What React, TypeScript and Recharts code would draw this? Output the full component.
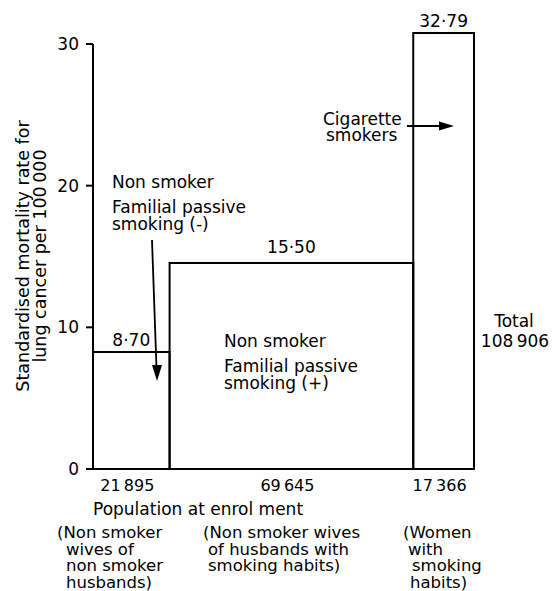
import React from 'react';
import { ComposedChart, XAxis, YAxis, ReferenceArea, Customized } from 'recharts';

// ---- data ----
const populations = [21895, 69645, 17366];
const populationLabels = ['21\u2009895', '69\u2009645', '17\u2009366'];
// bar heights as drawn against the axis in the figure
const drawnRates = [8.26, 14.54, 30.78];
// printed rate values above each bar
const rateLabels = ['8·70', '15·50', '32·79'];
const groupLabels = [
  ['(Non smoker', 'wives of', 'non smoker', 'husbands)'],
  ['(Non smoker wives', 'of husbands with', 'smoking habits)'],
  ['(Women', 'with', 'smoking', 'habits)'],
];
const yTicks = [0, 10, 20, 30];
const totalLabel = ['Total', '108\u2009906'];
const yAxisTitle = ['Standardised mortality rate for', 'lung cancer per 100\u2009000'];
const xAxisTitle = 'Population at enrol ment';

const starts: number[] = [];
populations.reduce((acc, p) => {
  starts.push(acc);
  return acc + p;
}, 0);
const total = populations.reduce((a, b) => a + b, 0);
const bars = populations.map((p, i) => ({
  x1: starts[i],
  x2: starts[i] + p,
  mid: starts[i] + p / 2,
  rate: drawnRates[i],
  label: rateLabels[i],
  pop: populationLabels[i],
}));
const midTicks = bars.map((b) => b.mid);

const FONT = '"DejaVu Sans", sans-serif';
const FS = 17;
const labelOffsets = [6, 10, 6];

const Annotations = () => {
  const t = { fontFamily: FONT, fontSize: FS, fill: '#000' } as const;
  const g = { fontFamily: FONT, fontSize: 16.5, fill: '#000' } as const;
  return (
    <g>
      {/* y axis title */}
      <text {...t} fontSize={17.5} textAnchor="middle" transform="translate(29,256) rotate(-90)">
        {yAxisTitle[0]}
      </text>
      <text {...t} fontSize={17.5} textAnchor="middle" transform="translate(46,256) rotate(-90)">
        {yAxisTitle[1]}
      </text>

      {/* left annotation */}
      <text {...t} x={112} y={188}>Non smoker</text>
      <text {...t} x={112} y={213}>Familial passive</text>
      <text {...t} x={112} y={230}>smoking  (-)</text>
      <line x1={152} y1={240} x2={156.5} y2={368} stroke="#000" strokeWidth={1.8} />
      <polygon points="152,365 162,365 157,381" fill="#000" />

      {/* middle annotation */}
      <text {...t} x={224} y={347}>Non smoker</text>
      <text {...t} x={224} y={372}>Familial passive</text>
      <text {...t} x={224} y={389}>smoking  (+)</text>

      {/* right annotation */}
      <text {...t} x={323} y={125}>Cigarette</text>
      <text {...t} x={326} y={141}>smokers</text>
      <line x1={407} y1={126} x2={442} y2={126} stroke="#000" strokeWidth={1.8} />
      <polygon points="439,121.5 439,130.5 454,126" fill="#000" />

      {/* total */}
      <text {...t} x={514} y={327} textAnchor="middle">{totalLabel[0]}</text>
      <text {...t} x={515} y={347} textAnchor="middle">{totalLabel[1]}</text>

      {/* x axis title */}
      <text {...t} x={93} y={515}>{xAxisTitle}</text>

      {/* group descriptions */}
      {groupLabels[0].map((s, i) => (
        <text key={'g0' + i} {...g} x={i === 0 ? 57 : 66} y={538 + i * 16.7}>{s}</text>
      ))}
      {groupLabels[1].map((s, i) => (
        <text key={'g1' + i} {...g} x={i === 0 ? 203 : 208} y={538 + i * 16.7}>{s}</text>
      ))}
      {groupLabels[2].map((s, i) => (
        <text key={'g2' + i} {...g} x={[403, 408, 412, 410][i]} y={538 + i * 16.7}>{s}</text>
      ))}
    </g>
  );
};

export default function App() {
  return (
    <div style={{ position: 'absolute', left: 0, top: 0, background: '#fff' }}>
      <ComposedChart
        width={556}
        height={591}
        data={bars}
        margin={{ top: 44, right: 82, bottom: 92, left: 33 }}
        style={{ fontFamily: FONT }}
      >
        <XAxis
          type="number"
          dataKey="mid"
          domain={[0, total]}
          ticks={midTicks}
          tickFormatter={(v: number) => {
            const b = bars.find((bb) => Math.abs(bb.mid - v) < 1);
            return b ? b.pop : '';
          }}
          allowDataOverflow
          height={30}
          tickLine={false}
          tickSize={0}
          tickMargin={11}
          interval={0}
          axisLine={{ stroke: '#000', strokeWidth: 2 }}
          tick={{ fill: '#000', fontSize: 16, fontFamily: FONT, dx: -4 }}
        />
        <YAxis
          type="number"
          domain={[0, 30]}
          ticks={yTicks}
          allowDataOverflow
          width={60}
          tickSize={7}
          tickMargin={7}
          interval={0}
          axisLine={{ stroke: '#000', strokeWidth: 2 }}
          tickLine={{ stroke: '#000', strokeWidth: 2 }}
          tick={{ fill: '#000', fontSize: FS, fontFamily: FONT }}
        />
        {bars.map((b, i) => (
          <ReferenceArea
            key={i}
            x1={b.x1}
            x2={b.x2}
            y1={0}
            y2={b.rate}
            ifOverflow="visible"
            fill="none"
            fillOpacity={0}
            stroke="#000"
            strokeWidth={2}
            label={{
              value: b.label,
              position: 'top',
              offset: labelOffsets[i],
              fill: '#000',
              fontSize: FS,
              fontFamily: FONT,
            }}
          />
        ))}
        <Customized component={Annotations} />
      </ComposedChart>
    </div>
  );
}
